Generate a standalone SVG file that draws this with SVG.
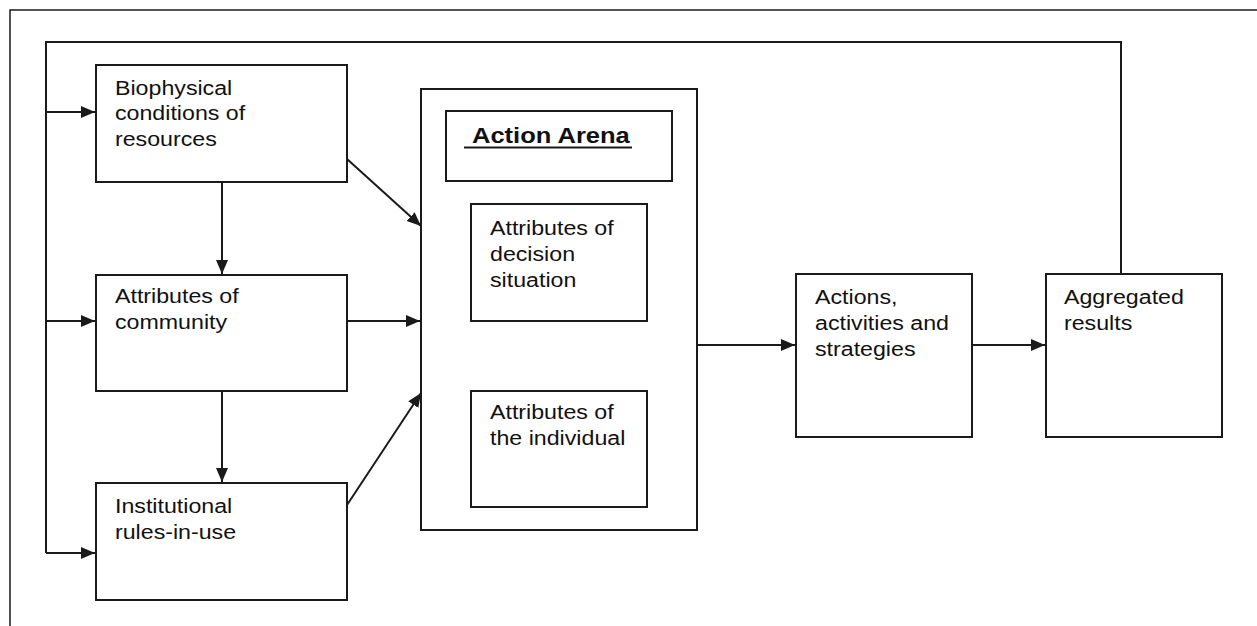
<svg xmlns="http://www.w3.org/2000/svg" width="1257" height="626" viewBox="0 0 1257 626">
  <style>
    .box { fill: #ffffff; stroke: #1a1a1a; stroke-width: 2; }
    .conn { fill: none; stroke: #1a1a1a; stroke-width: 2; }
    .frame { fill: none; stroke: #1a1a1a; stroke-width: 1.5; }
    .lbl { font-family: "Liberation Sans", Arial, sans-serif; font-size: 20px; fill: #111111; }
    .title { font-family: "Liberation Sans", Arial, sans-serif; font-size: 22px; font-weight: bold; fill: #111111; }
  </style>
  <defs>
    <marker id="arrow" markerUnits="userSpaceOnUse" markerWidth="15" markerHeight="13" refX="14" refY="6" orient="auto">
      <path d="M0,0 L14,6 L0,12 z" fill="#1a1a1a"/>
    </marker>
  </defs>
  <rect x="0" y="0" width="1257" height="626" fill="#ffffff"/>
  <g id="frame">
    <path class="frame" d="M10,626 L10,10 L1257,10"/>
  </g>
  <g id="connectors">
    <path class="conn" d="M1121,274 L1121,42 L46,42 L46,553"/>
    <path class="conn" d="M46,112 L95,112" marker-end="url(#arrow)"/>
    <path class="conn" d="M46,321 L95,321" marker-end="url(#arrow)"/>
    <path class="conn" d="M46,553 L95,553" marker-end="url(#arrow)"/>
    <path class="conn" d="M222,182 L222,274" marker-end="url(#arrow)"/>
    <path class="conn" d="M222,391 L222,482" marker-end="url(#arrow)"/>
    <path class="conn" d="M347,159 L421,226" marker-end="url(#arrow)"/>
    <path class="conn" d="M347,321 L420,321" marker-end="url(#arrow)"/>
    <path class="conn" d="M347,505 L421,393" marker-end="url(#arrow)"/>
    <path class="conn" d="M697,345 L795,345" marker-end="url(#arrow)"/>
    <path class="conn" d="M972,345 L1045,345" marker-end="url(#arrow)"/>
  </g>
  <g id="biophysical">
    <rect class="box" x="96" y="65" width="251" height="117"/>
    <text class="lbl" transform="translate(115,95) scale(1.16,1)"><tspan x="0" y="0">Biophysical</tspan><tspan x="0" y="25.5">conditions of</tspan><tspan x="0" y="51">resources</tspan></text>
  </g>
  <g id="community">
    <rect class="box" x="96" y="275" width="251" height="116"/>
    <text class="lbl" transform="translate(115,303) scale(1.16,1)"><tspan x="0" y="0">Attributes of</tspan><tspan x="0" y="26">community</tspan></text>
  </g>
  <g id="institutional">
    <rect class="box" x="96" y="483" width="251" height="117"/>
    <text class="lbl" transform="translate(115,513) scale(1.16,1)"><tspan x="0" y="0">Institutional</tspan><tspan x="0" y="26">rules-in-use</tspan></text>
  </g>
  <g id="action-arena">
    <rect class="box" x="421" y="89" width="276" height="441"/>
    <g id="action-arena-title">
      <rect class="box" x="446" y="111" width="226" height="70"/>
      <text class="title" transform="translate(472,143) scale(1.16,1)">Action Arena</text>
      <line x1="464" y1="147.5" x2="632" y2="147.5" stroke="#1a1a1a" stroke-width="2"/>
    </g>
    <g id="decision-situation">
      <rect class="box" x="471" y="204" width="176" height="117"/>
      <text class="lbl" transform="translate(490,235) scale(1.16,1)"><tspan x="0" y="0">Attributes of</tspan><tspan x="0" y="26">decision</tspan><tspan x="0" y="52">situation</tspan></text>
    </g>
    <g id="individual">
      <rect class="box" x="471" y="391" width="176" height="116"/>
      <text class="lbl" transform="translate(490,419) scale(1.16,1)"><tspan x="0" y="0">Attributes of</tspan><tspan x="0" y="26">the individual</tspan></text>
    </g>
  </g>
  <g id="actions">
    <rect class="box" x="796" y="274" width="176" height="163"/>
    <text class="lbl" transform="translate(815,304) scale(1.16,1)"><tspan x="0" y="0">Actions,</tspan><tspan x="0" y="26">activities and</tspan><tspan x="0" y="52">strategies</tspan></text>
  </g>
  <g id="aggregated">
    <rect class="box" x="1046" y="274" width="176" height="163"/>
    <text class="lbl" transform="translate(1064,304) scale(1.16,1)"><tspan x="0" y="0">Aggregated</tspan><tspan x="0" y="26">results</tspan></text>
  </g>
</svg>
